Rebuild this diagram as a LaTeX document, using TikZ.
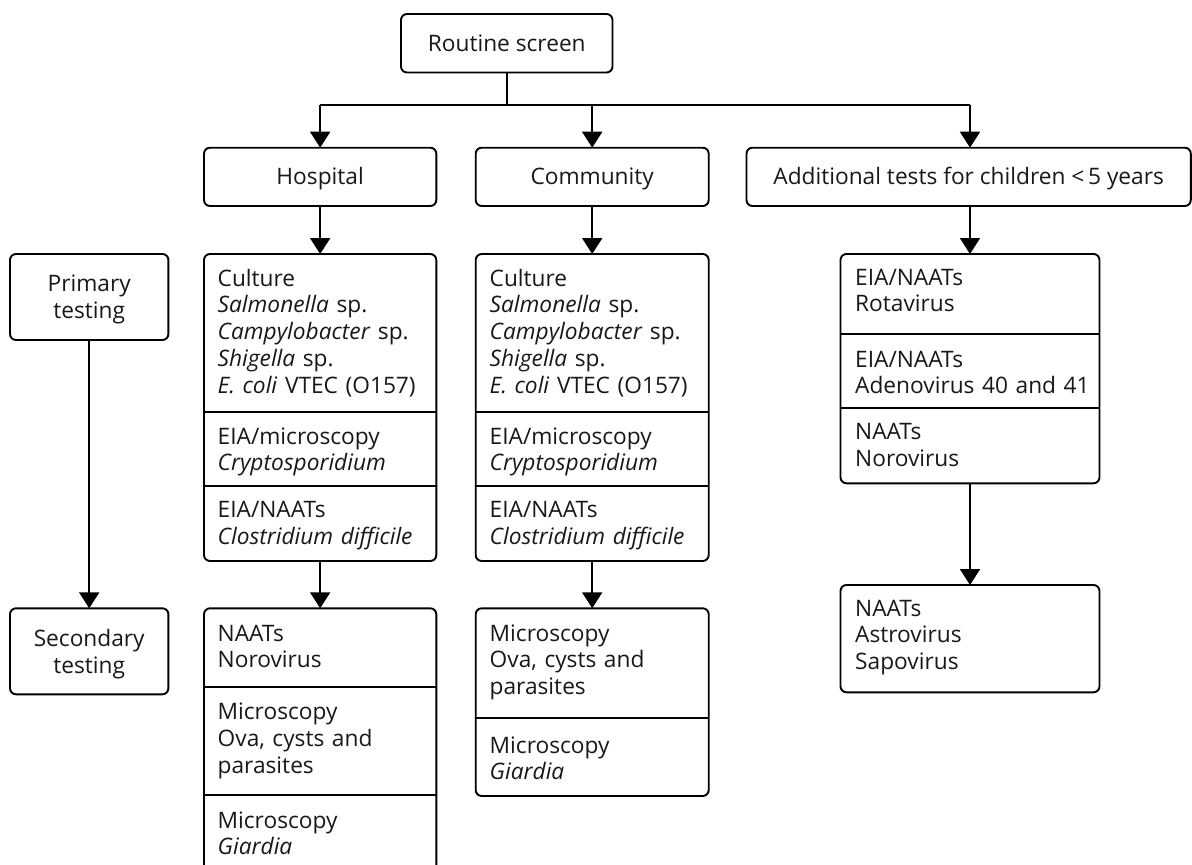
\documentclass[tikz,border=0pt]{standalone}
\usepackage{fontspec}
\setmainfont{Open Sans}
\usetikzlibrary{arrows.meta}
\definecolor{txt}{HTML}{1A1718}
\begin{document}
\begin{tikzpicture}[x=1pt,y=-1pt,
  every node/.style={font=\fontsize{22.7}{26.8}\selectfont, text=txt},
  box/.style={draw=black, line width=1.9pt, rounded corners=6pt, inner sep=0pt, outer sep=0pt, anchor=north west},
  lbl/.style={text height=16.2pt, text depth=0pt},
  cell/.style={anchor=base west, inner sep=0pt, text width=300pt, align=left},
  ctr/.style={anchor=base, inner sep=0pt, text width=150pt, align=center},
  arr/.style={line width=1.9pt, -{Triangle[width=20pt,length=16pt]}},
  lin/.style={line width=1.9pt}
]
\useasboundingbox (0,0) rectangle (1192,865);
\clip (0,0) rectangle (1192,865);

% top boxes
\node[box, lbl, minimum width=211.5pt, minimum height=58.5pt] (routine) at (401,14) {Routine screen};
\node[box, lbl, minimum width=232.3pt, minimum height=58.3pt] (hosp) at (204,147.7) {Hospital};
\node[box, lbl, minimum width=233pt, minimum height=58.3pt] (comm) at (475.7,147.7) {Community};
\node[box, lbl, minimum width=444.3pt, minimum height=58.3pt] (add) at (746.5,147.7) {Additional tests for children <\,5 years};

% left column
\node[box, minimum width=158.4pt, minimum height=86pt] (prim) at (10,254) {};
\node[ctr] (primt) at (89.2,291.5) {Primary\\testing};
\node[box, minimum width=158.4pt, minimum height=86pt] (sec) at (10,608.3) {};
\node[ctr] (sect) at (89.2,646.5) {Secondary\\testing};

% hospital primary
\node[box, minimum width=232.3pt, minimum height=307pt] (hp) at (204,254) {};
\draw[lin] (hp.west |- 0,411.7) -- (hp.east |- 0,411.7);
\draw[lin] (hp.west |- 0,485.7) -- (hp.east |- 0,485.7);
\node[cell] (hp1) at (217.5,286) {Culture\\\textit{Salmonella} sp.\\\textit{Campylobacter} sp.\\\textit{Shigella} sp.\\\textit{E. coli} VTEC (O157)};
\node[cell] (hp2) at (217.5,444) {EIA/microscopy\\\textit{Cryptosporidium}};
\node[cell] (hp3) at (217.5,517.5) {EIA/NAATs\\\textit{Clostridium difficile}};

% hospital secondary
\node[box, minimum width=232.3pt, minimum height=300pt] (hs) at (204,608.3) {};
\draw[lin] (hs.west |- 0,686.7) -- (hs.east |- 0,686.7);
\draw[lin] (hs.west |- 0,795) -- (hs.east |- 0,795);
\node[cell] (hs1) at (217.5,641) {NAATs\\Norovirus};
\node[cell] (hs2) at (217.5,719.5) {Microscopy\\Ova, cysts and\\parasites};
\node[cell] (hs3) at (217.5,828) {Microscopy\\\textit{Giardia}};

% community primary
\node[box, minimum width=233pt, minimum height=307pt] (cp) at (475.7,254) {};
\draw[lin] (cp.west |- 0,411.7) -- (cp.east |- 0,411.7);
\draw[lin] (cp.west |- 0,485.7) -- (cp.east |- 0,485.7);
\node[cell] (cp1) at (489.5,286) {Culture\\\textit{Salmonella} sp.\\\textit{Campylobacter} sp.\\\textit{Shigella} sp.\\\textit{E. coli} VTEC (O157)};
\node[cell] (cp2) at (489.5,444) {EIA/microscopy\\\textit{Cryptosporidium}};
\node[cell] (cp3) at (489.5,517.5) {EIA/NAATs\\\textit{Clostridium difficile}};

% community secondary
\node[box, minimum width=233pt, minimum height=187.7pt] (cs) at (475.7,608.3) {};
\draw[lin] (cs.west |- 0,718.3) -- (cs.east |- 0,718.3);
\node[cell] (cs1) at (489.5,641) {Microscopy\\Ova, cysts and\\parasites};
\node[cell] (cs2) at (489.5,753) {Microscopy\\\textit{Giardia}};

% children column
\node[box, minimum width=259pt, minimum height=229.3pt] (rota) at (840.5,254) {};
\draw[lin] (rota.west |- 0,334) -- (rota.east |- 0,334);
\draw[lin] (rota.west |- 0,408.3) -- (rota.east |- 0,408.3);
\node[cell] (r1) at (855,285) {EIA/NAATs\\Rotavirus};
\node[cell] (r2) at (855,367) {EIA/NAATs\\Adenovirus 40 and 41};
\node[cell] (r3) at (855,439.5) {NAATs\\Norovirus};
\node[box, minimum width=259pt, minimum height=107.3pt] (astro) at (840.5,585) {};
\node[cell] (a1) at (855,616) {NAATs\\Astrovirus\\Sapovirus};

% connectors
\coordinate (bus) at (506.75,105);
\draw[lin] (routine.south) -- (bus);
\draw[lin] (hosp.north |- bus) -- (rota.north |- bus);
\draw[arr] (hosp.north |- bus) -- (hosp.north);
\draw[arr] (comm.north |- bus) -- (comm.north);
\draw[arr] (rota.north |- bus) -- (rota.north |- add.north);
\draw[arr] (hosp.south) -- (hp.north);
\draw[arr] (hp.south) -- (hs.north);
\draw[arr] (comm.south) -- (cp.north);
\draw[arr] (cp.south) -- (cs.north);
\draw[arr] (rota.north |- add.south) -- (rota.north);
\draw[arr] (rota.south) -- (astro.north);
\draw[arr] (prim.south) -- (sec.north);
\end{tikzpicture}
\end{document}
